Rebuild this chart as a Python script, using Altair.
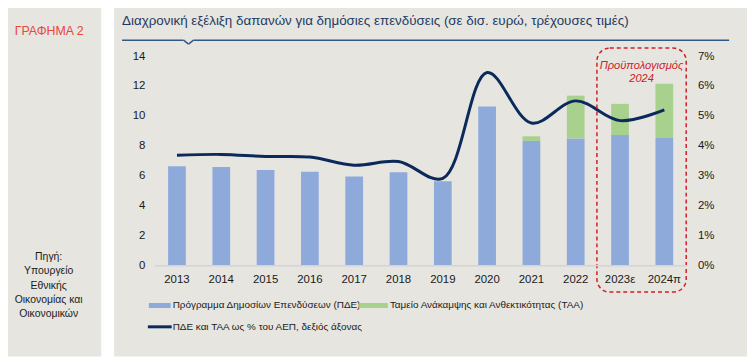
import altair as alt
import pandas as pd

years = ["2013", "2014", "2015", "2016", "2017", "2018", "2019", "2020", "2021", "2022", "2023ε", "2024π"]
pde = [6.62, 6.57, 6.37, 6.26, 5.95, 6.22, 5.62, 10.62, 8.32, 8.49, 8.71, 8.51]
taa = [0, 0, 0, 0, 0, 0, 0, 0, 0.31, 2.86, 2.09, 3.63]
pct = [3.68, 3.71, 3.64, 3.62, 3.35, 3.47, 2.91, 6.45, 4.76, 5.50, 4.84, 5.20]

s_pde = "Πρόγραμμα Δημοσίων Επενδύσεων (ΠΔΕ)"
s_taa = "Ταμείο Ανάκαμψης και Ανθεκτικότητας (ΤΑΑ)"
s_line = "ΠΔΕ και ΤΑΑ ως % του ΑΕΠ, δεξιός άξονας"
left_ticks = [0, 2, 4, 6, 8, 10, 12, 14]
right_ticks = [0, 0.01, 0.02, 0.03, 0.04, 0.05, 0.06, 0.07]

FONT = "Liberation Sans"
BG = "#e6e5e0"
BLUE = "#8eaadb"
GREEN = "#a9d18e"
NAVY = "#0b2a5b"
RED = "#d0202a"

rows = []
for y, a, b in zip(years, pde, taa):
    rows.append({"year": y, "series": s_pde, "value": a, "ord": 0})
    rows.append({"year": y, "series": s_taa, "value": b, "ord": 1})
bars_df = pd.DataFrame(rows)
line_df = pd.DataFrame({"year": years, "pct": [p / 100 for p in pct]})

W, H = 536, 211
xscale = alt.Scale(domain=years, paddingInner=0.6, paddingOuter=0.3)
xaxis = alt.Axis(title=None, labelAngle=0, ticks=False, domainColor="#d4d4d4",
                 domainWidth=1.5, labelPadding=8, labelFontSize=11.5,
                 labelColor="#1a1a1a", labelFont=FONT, zindex=1)

bars = alt.Chart(bars_df).mark_bar().encode(
    x=alt.X("year:N", sort=years, scale=xscale, axis=xaxis),
    y=alt.Y("value:Q", stack="zero", scale=alt.Scale(domain=[0, 14]),
            axis=alt.Axis(values=left_ticks, title=None, grid=False, domain=False,
                          ticks=False, labelPadding=10, labelFontSize=11.5,
                          labelColor="#1a1a1a", labelFont=FONT, zindex=1)),
    color=alt.Color("series:N", scale=alt.Scale(domain=[s_pde, s_taa], range=[BLUE, GREEN]),
                    legend=None),
    order=alt.Order("ord:Q"),
)

line = alt.Chart(line_df).mark_line(color=NAVY, strokeWidth=3, interpolate="catmull-rom").encode(
    x=alt.X("year:N", sort=years, scale=xscale),
    y=alt.Y("pct:Q", scale=alt.Scale(domain=[0, 0.07]),
            axis=alt.Axis(orient="right", values=right_ticks, format=".0%", title=None,
                          grid=False, domain=False, ticks=False, labelPadding=11,
                          labelFontSize=11.5, labelColor="#1a1a1a", labelFont=FONT, zindex=1)),
)

one = pd.DataFrame({"k": [0]})


# page coords -> view coords: vx = px - 156, vy = py - 55
def rect(x1, x2, y1, y2, **kw):
    return alt.Chart(one).mark_rect(**kw).encode(
        x=alt.value(x1 - 156), x2=alt.value(x2 - 156),
        y=alt.value(y1 - 55), y2=alt.value(y2 - 55))


def rule(x1, y1, x2, y2, **kw):
    return alt.Chart(one).mark_rule(**kw).encode(
        x=alt.value(x1 - 156), x2=alt.value(x2 - 156),
        y=alt.value(y1 - 55), y2=alt.value(y2 - 55))


def text(x, y, t, **kw):
    return alt.Chart(one).mark_text(font=FONT, **kw).encode(
        x=alt.value(x - 156), y=alt.value(y - 55), text=alt.value(t))


panels = alt.layer(
    rect(0, 102, 0, 358, color=BG),
    rect(115, 760, 0, 358, color=BG),
)

title_col = "#1f3a60"
line_col = "#2e5a88"
header = alt.layer(
    text(123, 19.5, "Διαχρονική εξέλιξη δαπανών για δημόσιες επενδύσεις (σε δισ. ευρώ, τρέχουσες τιμές)",
         align="left", baseline="middle", fontSize=13.5, color=title_col),
    rule(123, 39, 185, 39, color=line_col, strokeWidth=1.5),
    rule(185, 39, 190, 43, color=line_col, strokeWidth=1.5),
    rule(190, 43, 195, 39, color=line_col, strokeWidth=1.5),
    rule(195, 39, 735, 39, color=line_col, strokeWidth=1.5),
    text(49.5, 30, "ΓΡΑΦΗΜΑ 2", align="center", baseline="middle", fontSize=12.5, color="#e8473c"),
    text(49, 258, ["Πηγή:", "Υπουργείο", "Εθνικής", "Οικονομίας και", "Οικονομικών"],
         align="center", baseline="middle", fontSize=10.5, lineHeight=14.2, color="#1a1a1a"),
)

budget = alt.layer(
    rect(601.7, 691.7, 47, 293, filled=False, stroke=RED, strokeWidth=1.5,
         strokeDash=[4, 3], cornerRadius=13),
    text(646.7, 65, "Προϋπολογισμός", align="center", baseline="middle", fontSize=11.2,
         fontStyle="italic", color=RED),
    text(646.7, 78, "2024", align="center", baseline="middle", fontSize=11.2,
         fontStyle="italic", color=RED),
)

legend = alt.layer(
    rect(150, 172, 304, 309, color=BLUE),
    text(174, 306.5, s_pde, align="left", baseline="middle", fontSize=10, color="#1a1a1a"),
    rect(362, 391, 304, 309, color=GREEN),
    text(393, 306.5, s_taa, align="left", baseline="middle", fontSize=10, color="#1a1a1a"),
    rule(149, 328, 173, 328, color=NAVY, strokeWidth=3),
    text(174, 328, s_line, align="left", baseline="middle", fontSize=10, color="#1a1a1a"),
)

chart = alt.layer(panels, bars, line, header, budget, legend).resolve_scale(
    y="independent"
).properties(
    width=W, height=H,
    autosize=alt.AutoSizeParams(type="none"),
    padding={"left": 148, "top": 47, "right": 61, "bottom": 92},
    background="white",
).configure_view(stroke=None)

chart.save("out.html", embed_options={"renderer": "svg", "actions": False})
